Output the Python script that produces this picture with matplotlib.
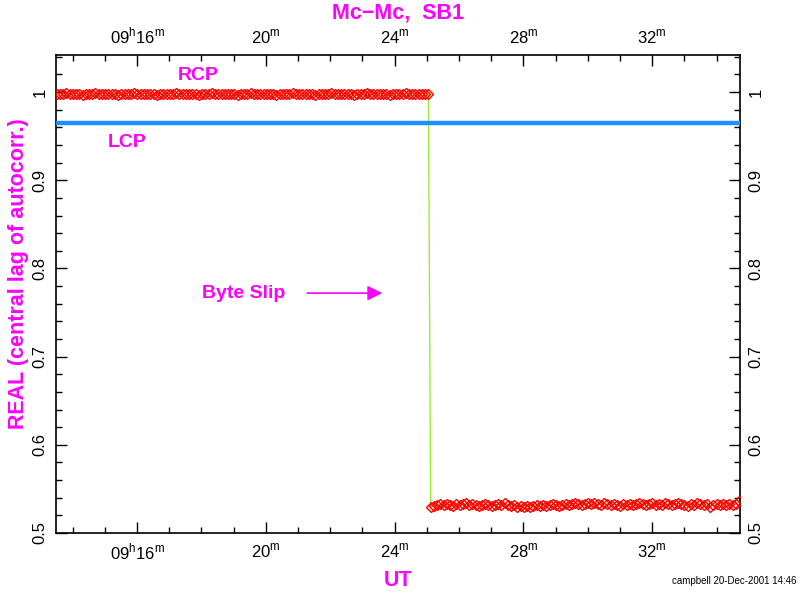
import matplotlib
matplotlib.use('Agg')

import numpy as np
import matplotlib.pyplot as plt
from matplotlib.ticker import MultipleLocator, FuncFormatter

plt.rcParams['font.family'] = ['Liberation Sans', 'DejaVu Sans']
plt.rcParams['mathtext.fontset'] = 'custom'
plt.rcParams['mathtext.rm'] = 'Liberation Sans'

# UT in minutes past 09h; RCP before and after the byte slip, then LCP
rcp_pre = [0.998, 0.998, 0.998, 0.999, 0.998, 0.998, 0.998, 0.998, 0.997, 0.998,
           0.998, 0.998, 0.999, 0.998, 0.998, 0.998, 0.998, 0.998, 0.998, 0.997,
           0.998, 0.998, 0.998, 0.998, 0.999, 0.998, 0.998, 0.998, 0.998, 0.998,
           0.998, 0.997, 0.998, 0.998, 0.998, 0.998, 0.998, 0.999, 0.998, 0.998,
           0.998, 0.998, 0.998, 0.998, 0.997, 0.998, 0.998, 0.998, 0.999, 0.998,
           0.998, 0.998, 0.998, 0.998, 0.998, 0.998, 0.997, 0.998, 0.998, 0.998,
           0.999, 0.998, 0.998, 0.998, 0.998, 0.998, 0.998, 0.998, 0.997, 0.998,
           0.998, 0.998, 0.998, 0.999, 0.998, 0.998, 0.998, 0.998, 0.998, 0.998,
           0.997, 0.998, 0.998, 0.998, 0.998, 0.999, 0.998, 0.998, 0.998, 0.998,
           0.998, 0.998, 0.997, 0.998, 0.998, 0.998, 0.999, 0.998, 0.998, 0.998,
           0.998, 0.998, 0.998, 0.997, 0.998, 0.998, 0.998, 0.998, 0.999, 0.998,
           0.998, 0.998, 0.998, 0.998, 0.998, 0.998]
rcp_post = [0.529, 0.531, 0.532, 0.533, 0.532, 0.533, 0.532, 0.531, 0.533, 0.532,
            0.533, 0.534, 0.532, 0.533, 0.532, 0.531, 0.532, 0.533, 0.532, 0.531,
            0.532, 0.533, 0.532, 0.534, 0.532, 0.531, 0.532, 0.530, 0.531, 0.530,
            0.531, 0.530, 0.531, 0.532, 0.531, 0.532, 0.531, 0.532, 0.533, 0.532,
            0.531, 0.532, 0.533, 0.532, 0.533, 0.534, 0.533, 0.532, 0.533, 0.534,
            0.533, 0.534, 0.533, 0.532, 0.534, 0.533, 0.532, 0.533, 0.532, 0.531,
            0.533, 0.532, 0.533, 0.532, 0.533, 0.534, 0.533, 0.532, 0.533, 0.534,
            0.532, 0.533, 0.532, 0.534, 0.533, 0.532, 0.533, 0.534, 0.533, 0.532,
            0.531, 0.533, 0.532, 0.534, 0.533, 0.532, 0.533, 0.530, 0.532, 0.533,
            0.532, 0.533, 0.532, 0.533, 0.532, 0.533, 0.536]
lcp = [0.965, 0.965, 0.965, 0.965, 0.965, 0.965, 0.965, 0.965, 0.965, 0.965,
       0.965, 0.965, 0.965, 0.965, 0.965, 0.965, 0.965, 0.965, 0.965, 0.965,
       0.965, 0.965, 0.965, 0.965, 0.965, 0.965, 0.965, 0.965, 0.965, 0.965,
       0.965, 0.965, 0.965, 0.965, 0.965, 0.965, 0.965, 0.965, 0.965, 0.965,
       0.965, 0.965, 0.965, 0.965, 0.965, 0.965, 0.965, 0.965, 0.965, 0.965,
       0.965, 0.965, 0.965, 0.965, 0.965, 0.965, 0.965, 0.965, 0.965, 0.965,
       0.965, 0.965, 0.965, 0.965, 0.965, 0.965, 0.965, 0.965, 0.965, 0.965,
       0.965, 0.965, 0.965, 0.965, 0.965, 0.965, 0.965, 0.965, 0.965, 0.965,
       0.965, 0.965, 0.965, 0.965, 0.965, 0.965]

t_pre = np.linspace(13.5, 25.05, len(rcp_pre))
t_post = np.linspace(25.12, 34.7, len(rcp_post))
t_lcp = np.linspace(13.5, 34.73, len(lcp))

t_rcp = np.concatenate([t_pre, t_post])
rcp = np.concatenate([rcp_pre, rcp_post])

magenta = '#FF00FF'

fig = plt.figure(figsize=(8, 5.92), dpi=100)
ax = fig.add_axes([56 / 800, 59 / 592, 684 / 800, 478 / 592])

ax.plot(t_rcp, rcp, color='#99EE33', lw=1, zorder=2)
ax.plot(t_rcp, rcp, ls='none', marker='D', ms=5.5, mfc='none', mec='red', mew=1.0, zorder=3)
ax.plot(t_lcp, lcp, color='#1E90FF', lw=3.2, zorder=3)

ax.set_xlim(13.48, 34.73)
ax.set_ylim(0.5, 1.042)

def fmt_t(v, pos):
    m = int(round(v))
    if m == 16:
        return r'09$^{\rm h}$16$^{\rm m}$'
    return r'%d$^{\rm m}$' % m

ax.xaxis.set_major_locator(MultipleLocator(4))
ax.xaxis.set_minor_locator(MultipleLocator(1))
ax.xaxis.set_major_formatter(FuncFormatter(fmt_t))
ax.yaxis.set_major_locator(MultipleLocator(0.1))
ax.yaxis.set_minor_locator(MultipleLocator(0.02))
ax.yaxis.set_major_formatter(FuncFormatter(lambda v, p: '%g' % round(v, 2)))

ax.tick_params(which='both', direction='in', top=True, right=True,
               labeltop=True, labelright=True, labelsize=12, width=1)
ax.tick_params(which='major', length=8, pad=6)
ax.tick_params(which='minor', length=4)
for t in ax.yaxis.get_major_ticks():
    t.label1.set_rotation(90)
    t.label2.set_rotation(90)
    t.label1.set_va('center')
    t.label2.set_va('center')
for s in ax.spines.values():
    s.set_linewidth(1.2)

ax.set_ylabel('REAL (central lag of autocorr.)', color=magenta, fontsize=15.5,
              fontweight='bold')
ax.yaxis.set_label_coords(-0.039, 0.543)
ax.set_xlabel('UT', color=magenta, fontsize=15.5, fontweight='bold', labelpad=6)
ax.set_title('Mc\u2212Mc,  SB1', color=magenta, fontsize=15.5, fontweight='bold', pad=26)

ax.text(17.9, 1.019, 'RCP', color=magenta, fontsize=14, fontweight='bold', ha='center', va='center')
ax.text(15.7, 0.943, 'LCP', color=magenta, fontsize=14, fontweight='bold', ha='center', va='center')
ax.text(19.3, 0.772, 'Byte Slip', color=magenta, fontsize=14, fontweight='bold', ha='center', va='center')
ax.annotate('', xy=(23.7, 0.772), xytext=(21.2, 0.772),
            arrowprops=dict(arrowstyle='-|>', color=magenta, lw=1.2, mutation_scale=22))

fig.text(0.995, 0.01, 'campbell 20-Dec-2001 14:46', fontsize=7, ha='right', va='bottom')

fig.savefig('out.png', dpi=100)
